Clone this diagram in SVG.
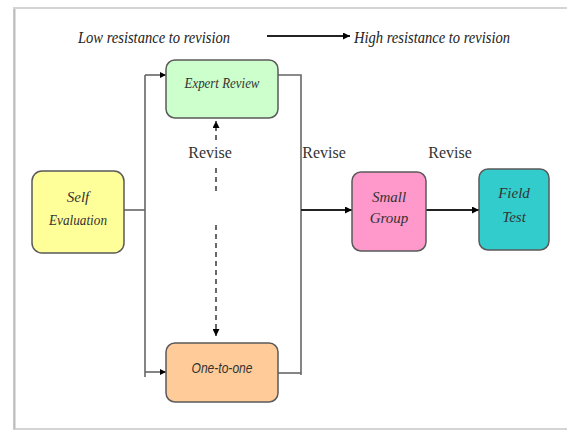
<svg xmlns="http://www.w3.org/2000/svg" width="567" height="432" viewBox="0 0 567 432">
<defs>
<marker id="ah" viewBox="0 0 10 10" refX="10" refY="5" markerWidth="7" markerHeight="7" markerUnits="userSpaceOnUse" orient="auto">
<path d="M0,0 L10,5 L0,10 z" fill="#000"/>
</marker>
<marker id="ahs" viewBox="0 0 10 10" refX="10" refY="5" markerWidth="6" markerHeight="7" markerUnits="userSpaceOnUse" orient="auto">
<path d="M0,0 L10,5 L0,10 z" fill="#000"/>
</marker>
</defs>
<style>
.box{stroke:#5a5a5a;stroke-width:1.5}
.lbl{font-family:"Liberation Serif",serif;font-style:italic;font-size:15px;fill:#333;text-anchor:middle}
.title{font-family:"Liberation Serif",serif;font-style:italic;font-size:16px;fill:#222}
.rev{font-family:"Liberation Serif",serif;font-size:16px;fill:#333}
.ln{stroke:#666;stroke-width:1.6;fill:none}
.arr{stroke:#222;stroke-width:2;fill:none}
.dash{stroke:#444;stroke-width:1.6;stroke-dasharray:5,4;fill:none}
</style>
<rect x="0" y="0" width="567" height="432" fill="#fff"/>
<rect x="14" y="8" width="560" height="421" fill="#fff" stroke="#d4d4d4" stroke-width="2"/>
<line x1="14.5" y1="9" x2="14.5" y2="429" stroke="#bdbdbd" stroke-width="2"/>

<g id="title">
<text class="title" x="78" y="43" textLength="152" lengthAdjust="spacingAndGlyphs">Low resistance to revision</text>
<text class="title" x="354" y="43" textLength="156" lengthAdjust="spacingAndGlyphs">High resistance to revision</text>
</g>

<g id="connectors">
<line class="arr" x1="267" y1="36" x2="350" y2="36" marker-end="url(#ah)"/>
<polyline class="ln" points="124,210 145,210"/>
<polyline class="ln" points="145,75 145,377"/>
<line class="ln" x1="145" y1="75" x2="166" y2="75" marker-end="url(#ahs)"/>
<line class="ln" x1="145" y1="372" x2="166" y2="372" marker-end="url(#ahs)"/>
<polyline class="ln" points="278,75 301,75 301,375"/>
<polyline class="ln" points="278,373 301,373"/>
<line class="arr" x1="301" y1="210" x2="352" y2="210" marker-end="url(#ah)"/>
<line class="arr" x1="426" y1="210" x2="479" y2="210" marker-end="url(#ah)"/>
<line class="dash" x1="216" y1="140" x2="216" y2="121" marker-end="url(#ah)"/>
<line class="dash" x1="216" y1="168" x2="216" y2="192"/>
<line class="dash" x1="216" y1="225" x2="216" y2="336" marker-end="url(#ah)"/>
</g>

<g id="labels">
<text class="rev" x="210" y="158" text-anchor="middle">Revise</text>
<text class="rev" x="324" y="158" text-anchor="middle">Revise</text>
<text class="rev" x="450" y="158" text-anchor="middle">Revise</text>
</g>

<g id="self-evaluation">
<rect class="box" x="32" y="171" width="92" height="82" rx="10" fill="#ffff99"/>
<text class="lbl" x="78" y="202">Self</text>
<text class="lbl" x="78" y="225" textLength="58" lengthAdjust="spacingAndGlyphs">Evaluation</text>
</g>

<g id="expert-review">
<rect class="box" x="166" y="60" width="112" height="58" rx="9" fill="#ccffcc"/>
<text class="lbl" x="222" y="88" textLength="75" lengthAdjust="spacingAndGlyphs">Expert Review</text>
</g>

<g id="one-to-one">
<rect class="box" x="166" y="343" width="112" height="59" rx="9" fill="#ffcc99"/>
<text class="lbl" x="222" y="373" textLength="61" lengthAdjust="spacingAndGlyphs" style="font-family:'Liberation Sans',sans-serif;font-size:14px">One-to-one</text>
</g>

<g id="small-group">
<rect class="box" x="352" y="172" width="74" height="79" rx="9" fill="#ff99cc"/>
<text class="lbl" x="389" y="202">Small</text>
<text class="lbl" x="389" y="223">Group</text>
</g>

<g id="field-test">
<rect class="box" x="479" y="169" width="70" height="81" rx="9" fill="#33cccc"/>
<text class="lbl" x="514" y="198">Field</text>
<text class="lbl" x="514" y="222">Test</text>
</g>
</svg>
